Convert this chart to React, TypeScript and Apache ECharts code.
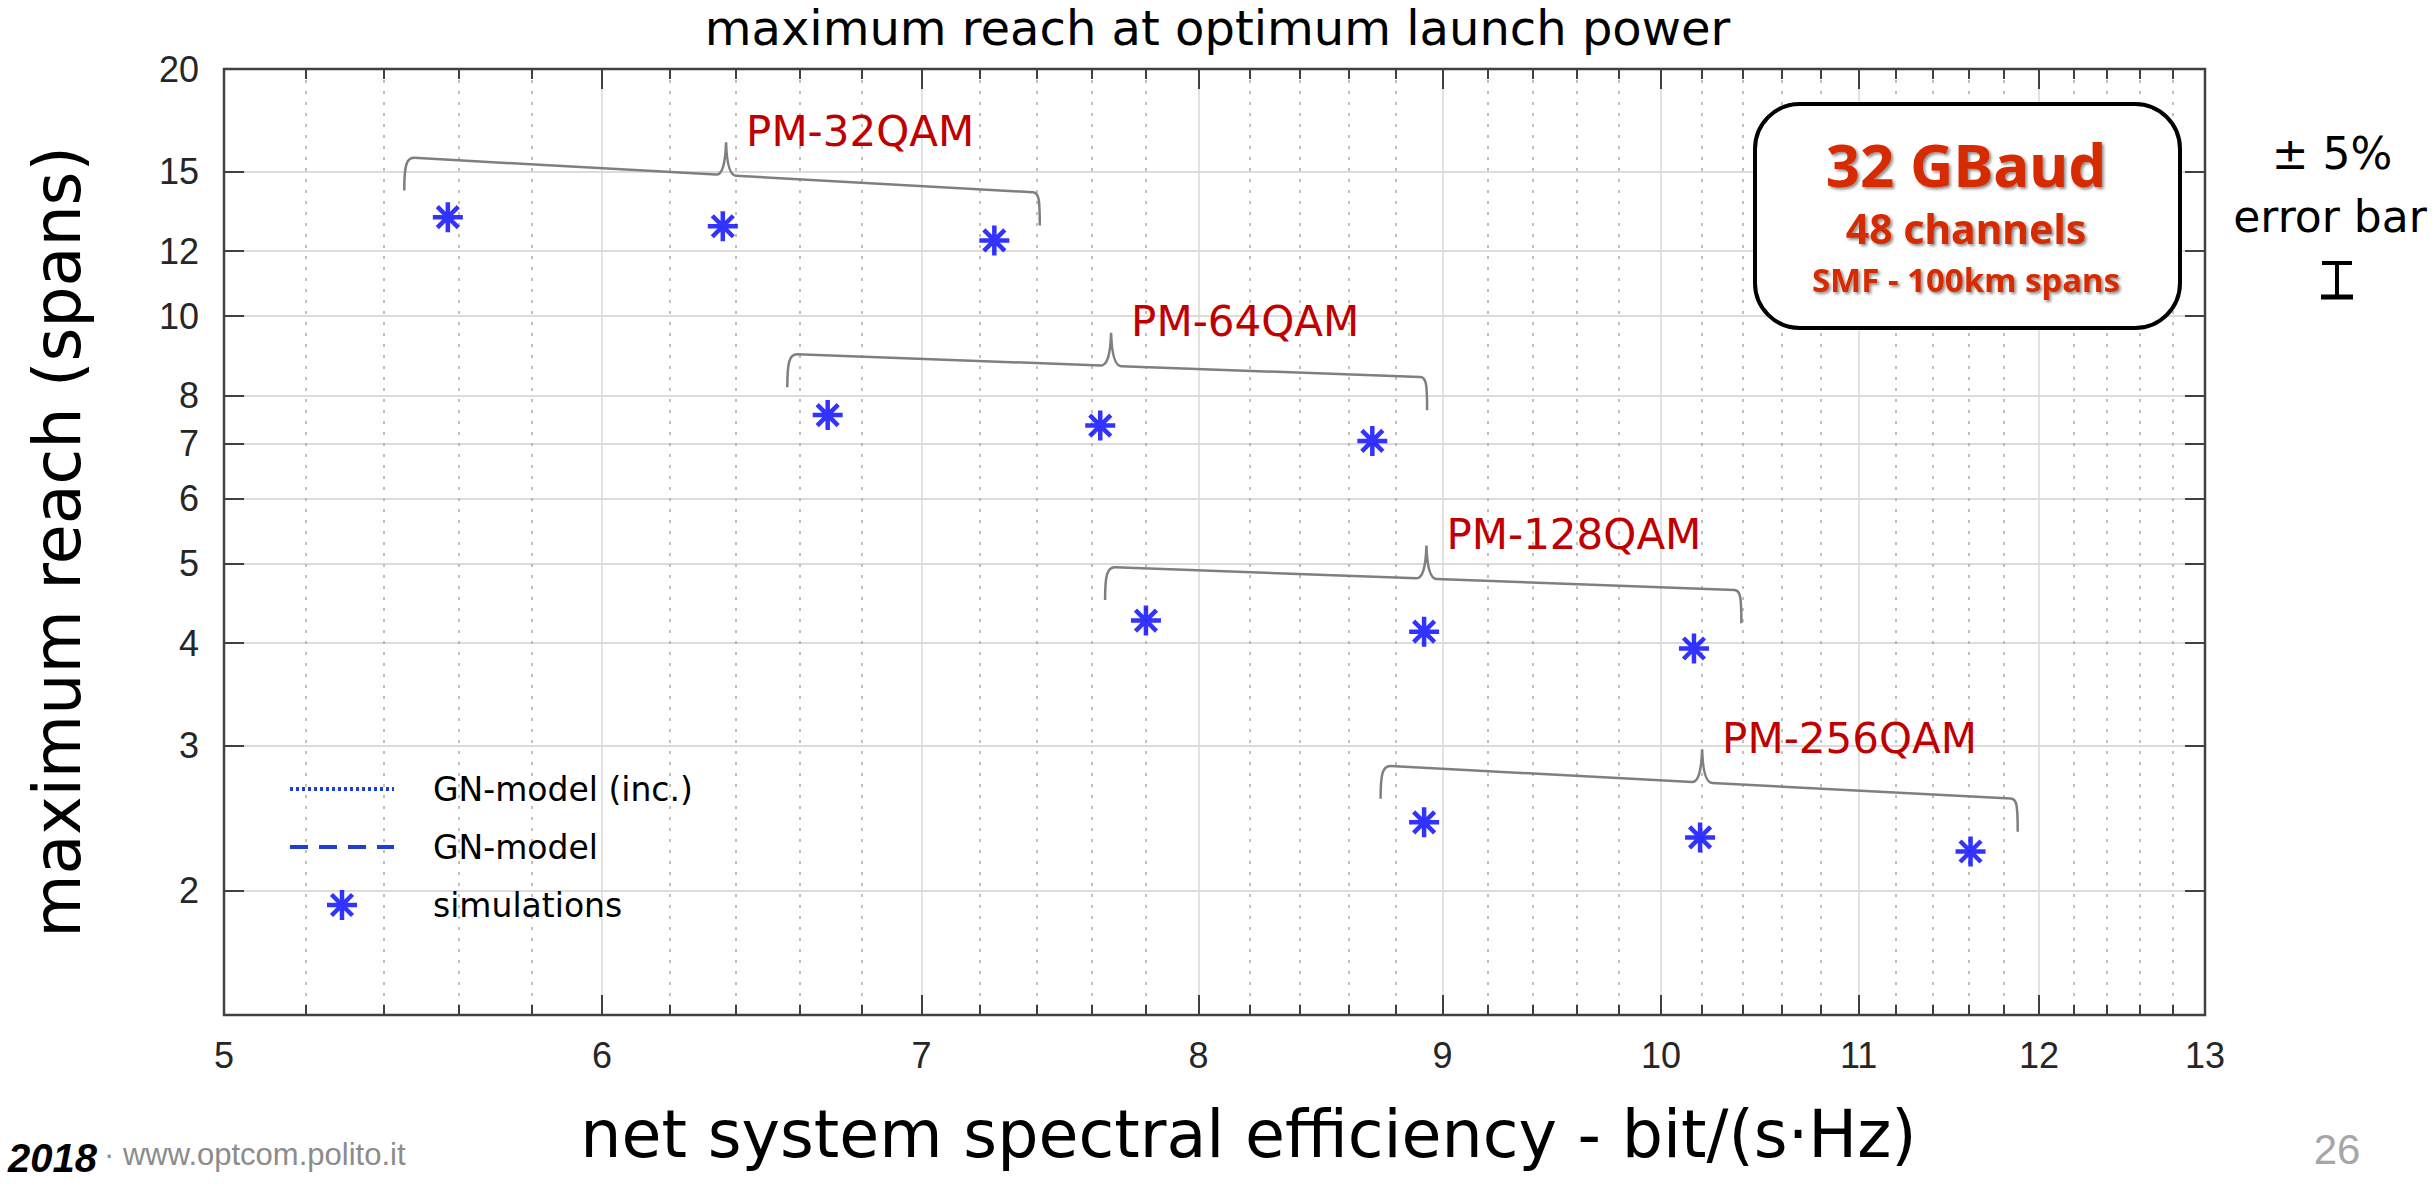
import React, { useEffect, useRef } from "react";
import * as echarts from "echarts";

// ---- data ----
const xMajorTicks = [5, 6, 7, 8, 9, 10, 11, 12, 13];
const xMinorTicks = [
  5.2, 5.4, 5.6, 5.8, 6.2, 6.4, 6.6, 6.8, 7.2, 7.4, 7.6, 7.8, 8.2, 8.4, 8.6, 8.8,
  9.2, 9.4, 9.6, 9.8, 10.2, 10.4, 10.6, 10.8, 11.2, 11.4, 11.6, 11.8, 12.2, 12.4, 12.6, 12.8,
];
const yTicks = [2, 3, 4, 5, 6, 7, 8, 10, 12, 15, 20];
const xRange = [5, 13];
const yRange = [1.41, 20];

const formats = ["PM-32QAM", "PM-64QAM", "PM-128QAM", "PM-256QAM"];
const simSE = [5.57, 6.36, 7.25, 6.69, 7.63, 8.7, 7.8, 8.92, 10.16, 8.92, 10.19, 11.61];
const simReach = [13.2, 12.87, 12.37, 7.58, 7.36, 7.05, 4.26, 4.13, 3.94, 2.42, 2.32, 2.23];

const braceLeftSE = [5.47, 6.58, 7.67, 8.76];
const braceMidSE = [6.37, 7.67, 8.93, 10.2];
const braceRightSE = [7.4, 8.92, 10.38, 11.86];
const braceLeftReach = [15.6, 8.99, 4.95, 2.835];
const braceRightReach = [14.15, 8.43, 4.64, 2.585];

const legendNames = ["GN-model (inc.)", "GN-model", "simulations"];

// ---- helpers ----
const L = Math.log;
const fmt = (v: number) => String(Math.round(Math.exp(v)));
const AX = "#404040";
const GN_COLOR = "#1c3fd4";
const TICKFONT = "'Liberation Sans', Arial, sans-serif";
const SANS = "'DejaVu Sans', sans-serif";
const STAR =
  "path://M0 42.5 L100 42.5 L100 57.5 L0 57.5 Z M42.5 0 L57.5 0 L57.5 100 L42.5 100 Z M20.3 9.7 L90.3 79.7 L79.7 90.3 L9.7 20.3 Z M79.7 9.7 L90.3 20.3 L20.3 90.3 L9.7 79.7 Z";
const DOTTED = [3, 3];
const DASHED = [18, 11];

const xInner = xMajorTicks.filter((v) => v !== xRange[0] && v !== xRange[1]).map(L);
const yInner = yTicks.filter((v) => v !== yRange[1]).map(L);

function xAxisDef(position: string, major: boolean, withLabels: boolean, grid: boolean): any {
  return {
    type: "value",
    position,
    min: L(xRange[0]),
    max: L(xRange[1]),
    axisLine: { show: false, onZero: false },
    axisTick: {
      show: true,
      inside: true,
      length: major ? 20 : 10,
      customValues: major ? xInner : xMinorTicks.map(L),
      lineStyle: { color: AX, width: 2 },
    },
    axisLabel: withLabels
      ? {
          show: true,
          customValues: xMajorTicks.map(L),
          formatter: fmt,
          fontSize: 36,
          fontFamily: TICKFONT,
          color: "#262626",
          margin: 22,
        }
      : { show: false },
    splitLine: grid
      ? major
        ? { show: true, lineStyle: { color: "#d9d9d9", width: 1.5 } }
        : { show: true, lineStyle: { color: "#ababab", width: 1.5, type: [3, 8] } }
      : { show: false },
  };
}

const boxText = (text: string, y: number, size: number): any => ({
  type: "text",
  z: 11,
  x: 1966,
  y,
  style: {
    text,
    fill: "#d62a00",
    fontSize: size,
    fontWeight: "bold",
    fontFamily: "'Noto Sans', sans-serif",
    align: "center",
    verticalAlign: "middle",
    textShadowColor: "rgba(0,0,0,0.45)",
    textShadowBlur: 3,
    textShadowOffsetX: 2,
    textShadowOffsetY: 2,
  },
});

function buildOption(): any {
  return {
    animation: false,
    backgroundColor: "#ffffff",
    title: {
      text: "maximum reach at optimum launch power",
      left: "center",
      top: 4,
      padding: 0,
      textStyle: { fontSize: 48, fontWeight: "normal", fontFamily: SANS, color: "#000" },
    },
    grid: {
      left: 224,
      right: 230,
      top: 69,
      bottom: 171,
      show: true,
      borderColor: AX,
      borderWidth: 2.5,
      backgroundColor: "transparent",
      containLabel: false,
      outerBoundsMode: "none",
    },
    legend: {
      orient: "vertical",
      left: 283,
      top: 761,
      selectedMode: false,
      data: [
        {
          name: legendNames[0],
          itemStyle: { opacity: 0 },
          lineStyle: { width: 4, color: GN_COLOR, type: DOTTED },
        },
        {
          name: legendNames[1],
          itemStyle: { opacity: 0 },
          lineStyle: { width: 4, color: GN_COLOR, type: DASHED },
        },
        { name: legendNames[2] },
      ],
      itemWidth: 104,
      itemHeight: 30,
      itemGap: 12,
      textStyle: {
        fontSize: 33,
        fontFamily: SANS,
        color: "#000",
        lineHeight: 46,
        padding: [0, 0, 0, 34],
      },
    },
    xAxis: [
      {
        ...xAxisDef("bottom", true, true, true),
        name: "net system spectral efficiency - bit/(s·Hz)",
        nameLocation: "middle",
        nameGap: 87,
        nameTextStyle: { fontSize: 65, fontFamily: SANS, color: "#000", padding: [0, 0, 0, 68] },
      },
      xAxisDef("bottom", false, false, true),
      xAxisDef("top", true, false, false),
      xAxisDef("top", false, false, false),
    ],
    yAxis: [
      {
        type: "value",
        position: "left",
        min: L(yRange[0]),
        max: L(yRange[1]),
        axisLine: { show: false, onZero: false },
        axisTick: {
          show: true,
          inside: true,
          length: 20,
          customValues: yInner,
          lineStyle: { color: AX, width: 2 },
        },
        axisLabel: {
          show: true,
          customValues: yTicks.map(L),
          formatter: fmt,
          fontSize: 36,
          fontFamily: TICKFONT,
          color: "#262626",
          margin: 25,
        },
        splitLine: { show: true, lineStyle: { color: "#dcdcdc", width: 2 } },
        name: "maximum reach (spans)",
        nameLocation: "middle",
        nameRotate: 90,
        nameGap: 134,
        nameTextStyle: { fontSize: 65, fontFamily: SANS, color: "#000" },
      },
      {
        type: "value",
        position: "right",
        min: L(yRange[0]),
        max: L(yRange[1]),
        axisLine: { show: false, onZero: false },
        axisTick: {
          show: true,
          inside: true,
          length: 20,
          customValues: yInner,
          lineStyle: { color: AX, width: 2 },
        },
        axisLabel: { show: false },
        splitLine: { show: false },
      },
    ],
    series: [
      {
        name: legendNames[0],
        type: "line",
        data: [],
        symbol: "none",
        color: GN_COLOR,
        lineStyle: { color: GN_COLOR, width: 4, type: DOTTED },
      },
      {
        name: legendNames[1],
        type: "line",
        data: [],
        symbol: "none",
        color: GN_COLOR,
        lineStyle: { color: GN_COLOR, width: 4, type: DASHED },
      },
      {
        name: "braces",
        type: "custom",
        silent: true,
        z: 3,
        data: formats.map((_, i) => [
          L(braceLeftSE[i]),
          L(braceLeftReach[i]),
          L(braceRightSE[i]),
          L(braceRightReach[i]),
          L(braceMidSE[i]),
        ]),
        encode: { x: [0, 2, 4], y: [1, 3] },
        renderItem: (params: any, api: any) => {
          const p0 = api.coord([api.value(0), api.value(1)]);
          const p1 = api.coord([api.value(2), api.value(3)]);
          const xm = api.coord([api.value(4), api.value(1)])[0];
          const slope = (p1[1] - p0[1]) / (p1[0] - p0[0]);
          const ym = p0[1] + (xm - p0[0]) * slope;
          const hook = 33;
          const tip = 33;
          const d = [
            `M ${p0[0] - 6} ${p0[1] + hook}`,
            `C ${p0[0] - 6} ${p0[1] + 8} ${p0[0] - 4} ${p0[1]} ${p0[0] + 4} ${p0[1] + slope * 4}`,
            `L ${xm - 10} ${ym - slope * 10}`,
            `Q ${xm - 1} ${ym} ${xm} ${ym - tip}`,
            `Q ${xm + 1} ${ym} ${xm + 10} ${ym + slope * 10}`,
            `L ${p1[0] - 4} ${p1[1] - slope * 4}`,
            `C ${p1[0] + 2} ${p1[1]} ${p1[0] + 3} ${p1[1] + 6} ${p1[0] + 3} ${p1[1] + hook}`,
          ].join(" ");
          return {
            type: "group",
            children: [
              {
                type: "path",
                shape: { pathData: d },
                style: { fill: "none", stroke: "#7f7f7f", lineWidth: 2.5 },
              },
              {
                type: "text",
                x: xm + 20,
                y: ym - tip + 10,
                style: {
                  text: formats[params.dataIndex],
                  fill: "#c00000",
                  fontSize: 42,
                  fontFamily: SANS,
                  align: "left",
                  verticalAlign: "bottom",
                },
              },
            ],
          };
        },
      },
      {
        name: legendNames[2],
        type: "scatter",
        z: 5,
        symbol: STAR,
        symbolSize: 30,
        symbolKeepAspect: true,
        itemStyle: { color: "#0000ff" },
        data: simSE.map((v, i) => [L(v), L(simReach[i])]),
      },
    ],
    graphic: [
      {
        type: "rect",
        z: 10,
        shape: { x: 1755, y: 104, width: 425, height: 224, r: 45 },
        style: { fill: "#ffffff", stroke: "#000000", lineWidth: 4 },
      },
      boxText("32 GBaud", 164, 60),
      boxText("48 channels", 228, 41),
      boxText("SMF - 100km spans", 279, 33),
      {
        type: "text",
        x: 2332,
        y: 153,
        style: { text: "± 5%", fill: "#000", fontSize: 44, fontFamily: SANS, align: "center", verticalAlign: "middle" },
      },
      {
        type: "text",
        x: 2330,
        y: 216,
        style: { text: "error bar", fill: "#000", fontSize: 44, fontFamily: SANS, align: "center", verticalAlign: "middle" },
      },
      {
        type: "group",
        x: 2337,
        y: 263,
        children: [
          { type: "line", shape: { x1: -15, y1: 0, x2: 15, y2: 0 }, style: { stroke: "#000", lineWidth: 4 } },
          { type: "line", shape: { x1: 0, y1: 0, x2: 0, y2: 34 }, style: { stroke: "#000", lineWidth: 4 } },
          { type: "line", shape: { x1: -16, y1: 34, x2: 16, y2: 34 }, style: { stroke: "#000", lineWidth: 5 } },
        ],
      },
      {
        type: "text",
        x: 8,
        y: 1158,
        style: {
          text: "2018",
          fill: "#000",
          fontSize: 40,
          fontWeight: "bold",
          fontStyle: "italic",
          fontFamily: TICKFONT,
          align: "left",
          verticalAlign: "middle",
        },
      },
      {
        type: "text",
        x: 104,
        y: 1154,
        style: {
          text: "· www.optcom.polito.it",
          fill: "#8c8c8c",
          fontSize: 31,
          fontFamily: TICKFONT,
          align: "left",
          verticalAlign: "middle",
        },
      },
      {
        type: "text",
        x: 2337,
        y: 1149,
        style: { text: "26", fill: "#a6a6a6", fontSize: 42, fontFamily: TICKFONT, align: "center", verticalAlign: "middle" },
      },
    ],
  };
}

export default function App() {
  const ref = useRef<HTMLDivElement>(null);
  useEffect(() => {
    if (!ref.current) return;
    const chart = echarts.init(ref.current, null, { renderer: "svg" });
    chart.setOption(buildOption());
    return () => chart.dispose();
  }, []);
  return (
    <div
      ref={ref}
      style={{ position: "absolute", left: 0, top: 0, width: 2435, height: 1186, background: "#fff" }}
    />
  );
}
